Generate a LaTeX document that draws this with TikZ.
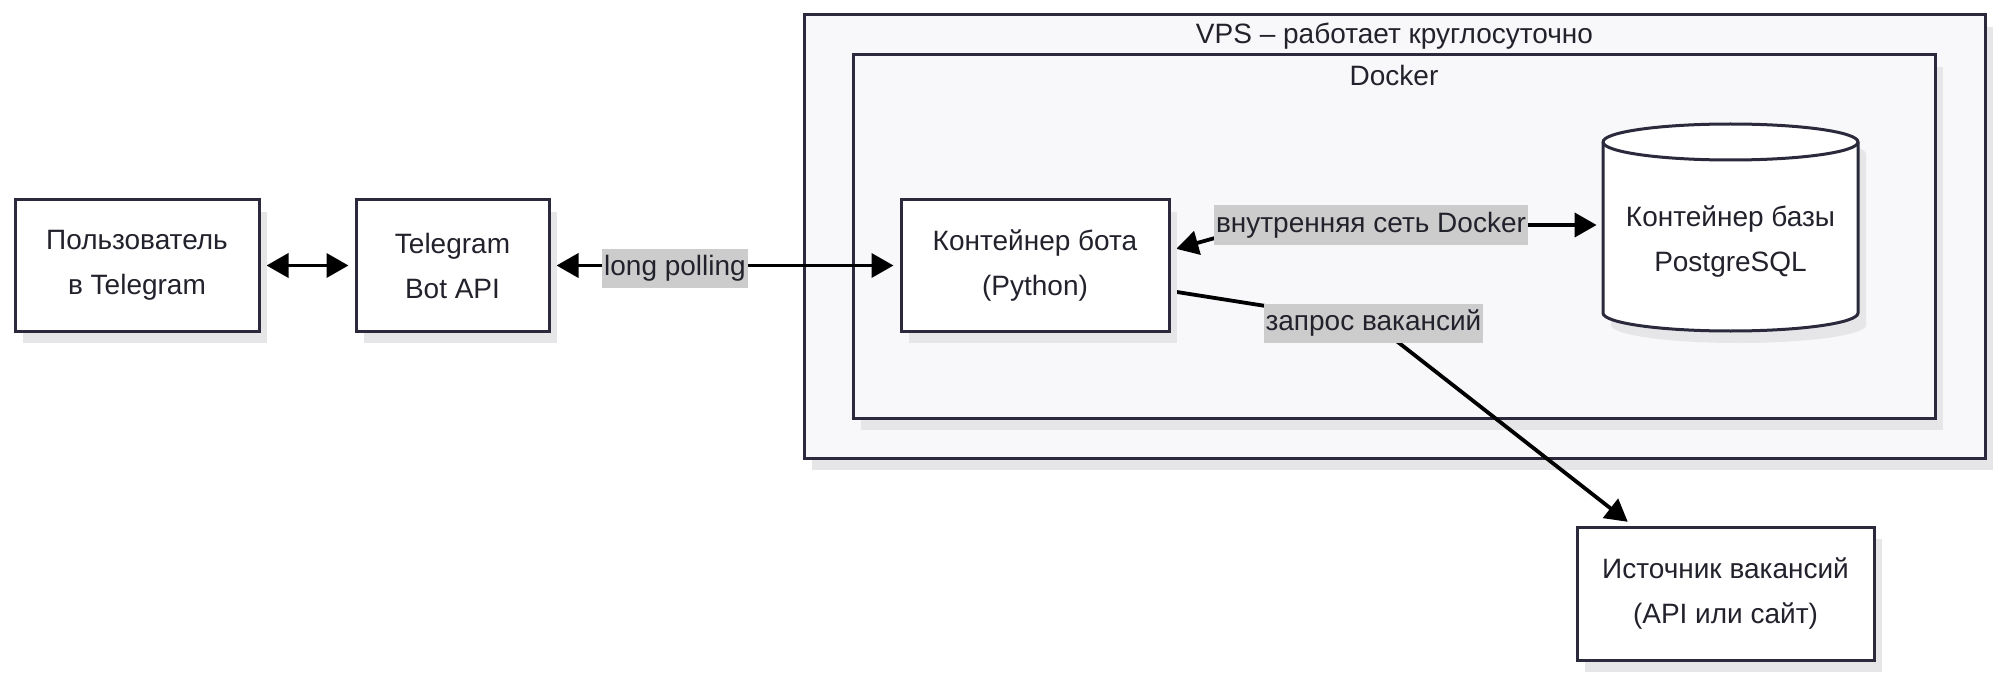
\documentclass[tikz,border=0pt]{standalone}
\usepackage{fontspec}
\setmainfont{Liberation Sans}
\usetikzlibrary{arrows.meta,calc,shadows}
\definecolor{bord}{RGB}{42,42,60}
\definecolor{txt}{RGB}{34,34,44}
\definecolor{cont}{RGB}{248,248,250}
\definecolor{shad}{RGB}{230,230,233}
\definecolor{labbg}{RGB}{204,204,204}
\pgfdeclarelayer{paper}
\pgfdeclarelayer{back}
\pgfdeclarelayer{edges}
\pgfsetlayers{paper,back,edges,main}
\tikzset{
  boxshadow/.style={drop shadow={shadow xshift=4pt,shadow yshift=-6pt,fill=shad,opacity=1}},
  box/.style={draw=bord,line width=1.5pt,fill=white,text=txt,align=center,
    font=\fontsize{14}{22.5}\selectfont,inner sep=0pt,minimum height=65.5pt,boxshadow},
  contbox/.style={draw=bord,line width=1.5pt,fill=cont,inner sep=0pt,boxshadow},
  title/.style={text=txt,font=\fontsize{14}{16}\selectfont,inner sep=0pt},
  edgelab/.style={fill=labbg,text=txt,font=\fontsize{14}{16}\selectfont,inner xsep=1pt,inner ysep=0pt,minimum height=19.5pt},
  conn/.style={line width=1.9pt,black,shorten <=3pt,shorten >=3pt},
  tip/.style={-{Triangle[length=11pt,width=12pt]}},
  tips/.style={{Triangle[length=11pt,width=12pt]}-{Triangle[length=11pt,width=12pt]}}
}
\begin{document}
\begin{tikzpicture}[x=0.5pt,y=-0.5pt]
\begin{pgfonlayer}{paper}
\fill[white] (0,0) rectangle (1999,674);
\end{pgfonlayer}
\useasboundingbox (0,0) rectangle (1999,674);
% containers
\begin{pgfonlayer}{back}
\node[contbox,minimum width=590.5pt,minimum height=221.5pt] (vps) at (1394.5,236.5) {};
\node[contbox,minimum width=541pt,minimum height=181.5pt] (docker) at (1394,236.5) {};
\end{pgfonlayer}
\node[title] (vpst) at (1394.5,36) {VPS – работает круглосуточно};
\node[title] (dockt) at (1394,75) {Docker};
% boxes
\node[box,minimum width=122pt] (user) at (137,265.5) {Пользователь\\в Telegram};
\node[box,minimum width=96.5pt] (tg) at (452.5,265.5) {Telegram\\Bot API};
\node[box,minimum width=134pt] (bot) at (1035,265.5) {Контейнер бота\\(Python)};
\node[box,minimum width=148.5pt,minimum height=66.5pt] (src) at (1725.5,593.5) {Источник вакансий\\(API или сайт)};
% cylinder
\fill[shad] (1611,154) -- (1611,325) arc (180:360:63.75pt and 9pt) -- (1866,154) arc (0:180:63.75pt and 9pt) -- cycle;
\filldraw[fill=white,draw=bord,line width=1.5pt] (1603,142) -- (1603,313) arc (180:360:63.75pt and 9pt) -- (1858,142) arc (0:180:63.75pt and 9pt) -- cycle;
\draw[bord,line width=1.5pt] (1603,142) arc (180:360:63.75pt and 9pt);
\node[text=txt,align=center,font=\fontsize{14}{22.5}\selectfont,inner sep=0pt,minimum width=127.5pt] (db) at (1730.5,242) {Контейнер базы\\PostgreSQL};
% edge labels
\node[edgelab] (lp) at (675,268) {long polling};
\node[edgelab] (net) at (1371,225) {внутренняя сеть Docker};
\node[edgelab] (zap) at (1373.5,323) {запрос вакансий};
% connectors
\begin{pgfonlayer}{edges}
\draw[conn,tips] (user) -- (tg);
\draw[conn,tips] (tg.east) -- (bot.west);
\draw[conn,tips] ([yshift=7.5pt]bot.east) .. controls ($(net.center)+(-110,0)$) .. (net.center) -- (net.center -| db.west);
\draw[conn,tip] ([yshift=-12.75pt]bot.east) -- (zap.center) -- ($(src.north)+(-93,0)$);
\end{pgfonlayer}
\end{tikzpicture}
\end{document}
